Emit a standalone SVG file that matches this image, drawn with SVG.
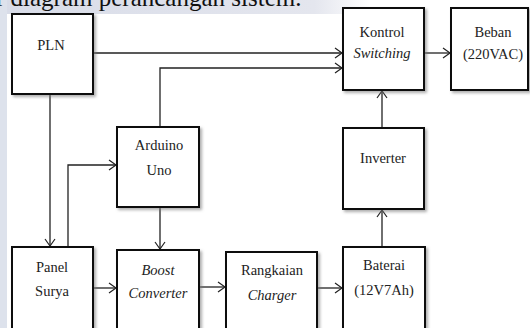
<svg xmlns="http://www.w3.org/2000/svg" width="530" height="328" viewBox="0 0 530 328">
<defs>
<filter id="sh" x="-10%" y="-10%" width="130%" height="130%">
<feDropShadow dx="2" dy="2" stdDeviation="1.5" flood-color="#777" flood-opacity="0.6"/>
</filter>
<marker id="ah" markerWidth="10" markerHeight="12" refX="8" refY="6" orient="auto" markerUnits="userSpaceOnUse">
<polyline points="1,1 8,6 1,11" fill="none" stroke="#222" stroke-width="1.2"/>
</marker>
<linearGradient id="band" x1="0" y1="0" x2="1" y2="0">
<stop offset="0" stop-color="#d8dce8"/>
<stop offset="0.85" stop-color="#e4e6ee"/>
<stop offset="1" stop-color="#ffffff"/>
</linearGradient>
</defs>
<style>
.box{fill:#fff;stroke:#111;stroke-width:2;filter:url(#sh)}
.t{font-size:14.5px;fill:#222;text-anchor:middle}
.i{font-style:italic}
.c{fill:none;stroke:#222;stroke-width:1.3;marker-end:url(#ah)}
</style>
<rect width="530" height="328" fill="#fff"/>
<rect x="0" y="0" width="370" height="14" fill="url(#band)"/>
<rect x="0" y="0" width="7" height="328" fill="#dde2ec"/>
<text x="-4" y="6" font-family="Liberation Serif, Times New Roman, serif" font-size="25" fill="#111">r diagram perancangan sistem.</text>

<g id="connectors">
<path class="c" d="M93,53 H342"/>
<path class="c" d="M160,127 V68 H342"/>
<path class="c" d="M424,53 H450"/>
<path class="c" d="M382,128 V91"/>
<path class="c" d="M382,247 V210"/>
<path class="c" d="M50,94 V246"/>
<path class="c" d="M68,247 V165 H116"/>
<path class="c" d="M160,207 V249"/>
<path class="c" d="M93,288 H116"/>
<path class="c" d="M199,287 H225"/>
<path class="c" d="M317,288 H342"/>
</g>

<g font-family="Liberation Serif, Times New Roman, serif">
<g id="pln"><rect class="box" x="12" y="14" width="81" height="80"/><text class="t" x="51" y="50">PLN</text></g>
<g id="kontrol"><rect class="box" x="343" y="8" width="81" height="82"/><text class="t" x="382" y="37">Kontrol</text><text class="t i" x="382" y="58">Switching</text></g>
<g id="beban"><rect class="box" x="451" y="8" width="77" height="82"/><text class="t" x="493" y="37">Beban</text><text class="t" x="493" y="59">(220VAC)</text></g>
<g id="arduino"><rect class="box" x="117" y="127" width="82" height="80"/><text class="t" x="159" y="150">Arduino</text><text class="t" x="159" y="175">Uno</text></g>
<g id="inverter"><rect class="box" x="343" y="128" width="81" height="81"/><text class="t" x="383" y="163">Inverter</text></g>
<g id="panel"><rect class="box" x="12" y="247" width="81" height="95"/><text class="t" x="52" y="272">Panel</text><text class="t" x="52" y="296">Surya</text></g>
<g id="boost"><rect class="box" x="117" y="250" width="82" height="92"/><text class="t i" x="158" y="275">Boost</text><text class="t i" x="158" y="298">Converter</text></g>
<g id="rangkaian"><rect class="box" x="226" y="252" width="91" height="90"/><text class="t" x="272" y="275">Rangkaian</text><text class="t i" x="272" y="300">Charger</text></g>
<g id="baterai"><rect class="box" x="343" y="247" width="82" height="95"/><text class="t" x="384" y="270">Baterai</text><text class="t" x="384" y="295">(12V7Ah)</text></g>
</g>
</svg>
